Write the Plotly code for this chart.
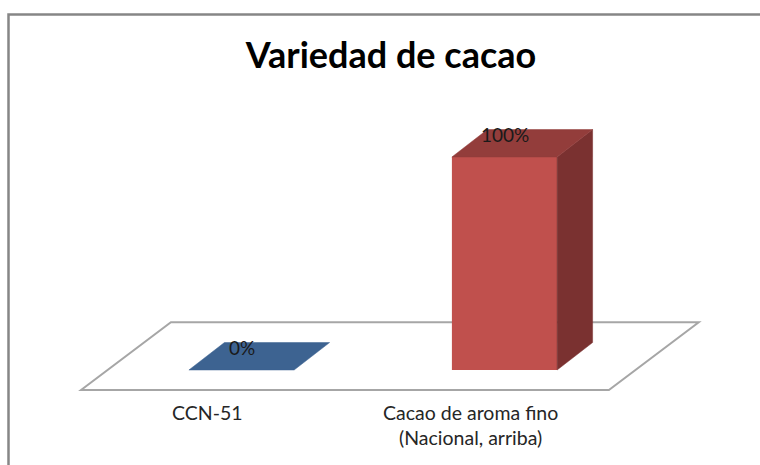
import plotly.graph_objects as go

# ---- data ----
categories = ["CCN-51", "Cacao de aroma fino<br>(Nacional, arriba)"]
values = [0.0, 1.0]
value_labels = ["0%", "100%"]
front_colors = ["#4F81BD", "#C0504D"]
top_colors = ["#3D6391", "#933D3B"]
side_colors = ["#2F4E74", "#7A3130"]
title_text = "Variedad de cacao"

# ---- styling / geometry constants ----
W, H = 760, 465
BAR_W = 0.40        # bar width in category units
DX, DY = 0.135, 0.129  # oblique depth offset (x in category units, y in value units)
X_RANGE = [-0.9183, 1.9715]
Y_RANGE = [-0.4460, 1.7371]

fig = go.Figure()

n = len(categories)
xs = list(range(n))

# floor (3D axis wall), drawn beneath the traces
f_front = -0.73 * DY
f_back = f_front + 2.47 * DY
fl_left = -0.61
fl_right = (n - 1) + 0.397
fdx = 2.53 * DX
floor_path = (f"M {fl_left},{f_front} L {fl_right},{f_front} "
              f"L {fl_right + fdx},{f_back} L {fl_left + fdx},{f_back} Z")
fig.add_shape(type="path", path=floor_path, xref="x", yref="y",
              fillcolor="white", line=dict(color="#A6A6A6", width=2), layer="below")

# bar front faces
fig.add_trace(go.Bar(x=xs, y=values, width=BAR_W, marker=dict(color=front_colors, line=dict(width=0)),
                     hoverinfo="skip", showlegend=False))

for i, v in enumerate(values):
    x0, x1 = i - BAR_W / 2, i + BAR_W / 2
    # side face
    if v > 0:
        fig.add_trace(go.Scatter(
            x=[x1, x1, x1 + DX, x1 + DX, x1],
            y=[0, v, v + DY, DY, 0],
            mode="lines", fill="toself", fillcolor=side_colors[i],
            line=dict(color=side_colors[i], width=0.5), hoverinfo="skip", showlegend=False))
    # top face
    fig.add_trace(go.Scatter(
        x=[x0, x1, x1 + DX, x0 + DX, x0],
        y=[v, v, v + DY, v + DY, v],
        mode="lines", fill="toself", fillcolor=top_colors[i],
        line=dict(color=top_colors[i], width=0.5), hoverinfo="skip", showlegend=False))
    # value label
    fig.add_annotation(x=i, y=v, text=value_labels[i], showarrow=False,
                       xanchor="center", yanchor="middle", yshift=23,
                       font=dict(family="Lato", size=19, color="#1a1a1a"))
    # category label
    fig.add_annotation(x=i - 0.131, xref="x", y=1 - 399 / H, yref="paper",
                       text=categories[i], showarrow=False, xanchor="center", yanchor="top",
                       align="center",
                       font=dict(family="Lato", size=19.5, color="#262626"))

# outer frame
fig.add_shape(type="rect", xref="paper", yref="paper",
              x0=8.5 / W, x1=1.02, y0=-0.02, y1=1 - 14.5 / H,
              line=dict(color="#868686", width=2.5), fillcolor="rgba(0,0,0,0)", layer="below")

fig.update_layout(
    width=W, height=H,
    margin=dict(l=0, r=0, t=0, b=0),
    paper_bgcolor="white", plot_bgcolor="white",
    barmode="overlay",
    title=dict(text="<b>" + title_text + "</b>", x=391 / W, xanchor="center",
               y=1 - 55 / H, yanchor="middle",
               font=dict(family="Lato", size=36, color="black")),
    xaxis=dict(range=X_RANGE, visible=False, fixedrange=True),
    yaxis=dict(range=Y_RANGE, visible=False, fixedrange=True),
    showlegend=False,
)

fig.write_html("out.html", config={"displayModeBar": False},
               post_script="document.body.style.margin='0';")
